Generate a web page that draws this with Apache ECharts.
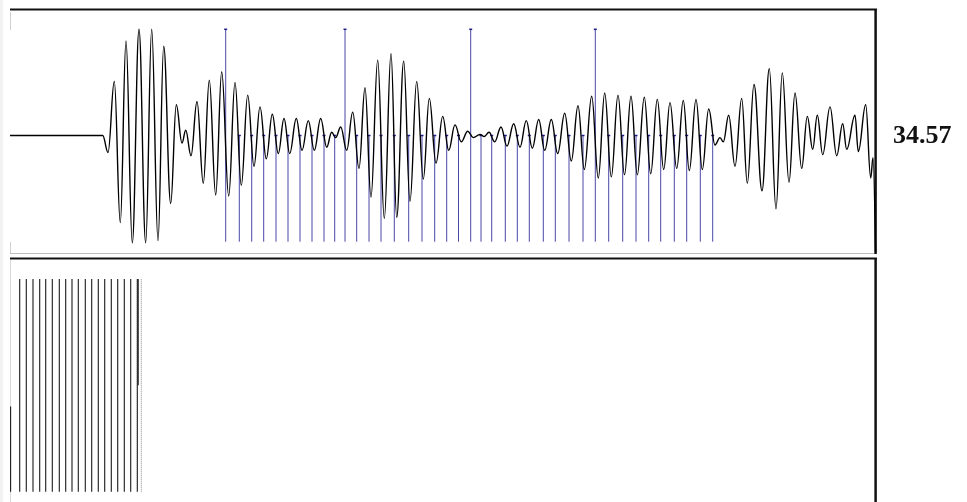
<!DOCTYPE html>
<html><head><meta charset="utf-8">
<script src="https://cdn.jsdelivr.net/npm/echarts@6/dist/echarts.min.js"></script>
<style>html,body{margin:0;padding:0;background:#fff;overflow:hidden}#c{width:967px;height:502px}</style>
</head><body><div id="c"></div>
<script>
// Waveform extrema (x = sample position, y = normalised amplitude)
const waveX = [0, 92.7, 98, 104.3, 110.3, 116, 122.3, 129, 135.7, 141.7, 148, 153.7, 160.7, 166.3, 172, 175.7, 181, 187, 193.3, 199.3, 205.7, 211.7, 218.7, 225, 231.3, 237.7, 244, 250, 256.3, 262.3, 268.3, 274, 279.7, 286.3, 292, 298.3, 304.3, 310.7, 316.7, 321.7, 325.7, 330.7, 336.7, 342.7, 349, 355, 361, 367.7, 374.3, 381, 386.7, 393.7, 400, 406.7, 413.3, 419.3, 426, 432.7, 438.7, 445, 451.3, 457.7, 463.3, 470, 474.3, 479, 484.7, 491, 497, 503.7, 510, 516.3, 522.3, 528.7, 534.7, 541.3, 547.7, 554.7, 561.3, 568, 574.3, 581.7, 588.3, 594.7, 601.3, 608, 614.5, 621, 627.3, 634.3, 640.7, 647.3, 653.7, 660, 666.7, 673.3, 679.3, 686, 692.3, 698.7, 705, 710, 713.3, 718.7, 725, 731.7, 737.3, 744, 752, 759.3, 766, 772.3, 779, 785, 791.7, 797.3, 802.7, 807.3, 812.7, 820, 826.7, 832.7, 836.7, 845, 848.3, 855.7, 860.7, 863, 865.5];
const waveY = [0, 0, -0.16, 0.51, -0.82, 0.89, -1.01, 1.0, -1.01, 1.0, -0.99, 0.84, -0.64, 0.29, -0.07, 0.05, -0.19, 0.32, -0.45, 0.52, -0.56, 0.60, -0.57, 0.50, -0.47, 0.38, -0.29, 0.27, -0.22, 0.20, -0.17, 0.16, -0.17, 0.16, -0.14, 0.14, -0.14, 0.16, -0.11, 0.03, -0.02, 0.08, -0.14, 0.22, -0.31, 0.45, -0.58, 0.71, -0.78, 0.77, -0.77, 0.70, -0.62, 0.51, -0.41, 0.35, -0.26, 0.18, -0.14, 0.10, -0.06, 0.04, -0.02, 0.01, -0.01, 0.03, -0.06, 0.08, -0.10, 0.11, -0.11, 0.14, -0.12, 0.15, -0.14, 0.15, -0.17, 0.21, -0.24, 0.28, -0.32, 0.37, -0.40, 0.40, -0.39, 0.38, -0.37, 0.37, -0.37, 0.36, -0.36, 0.34, -0.32, 0.31, -0.31, 0.33, -0.33, 0.34, -0.32, 0.25, -0.09, -0.02, -0.06, 0.19, -0.29, 0.35, -0.45, 0.48, -0.52, 0.63, -0.69, 0.59, -0.44, 0.40, -0.31, 0.18, -0.13, 0.19, -0.18, 0.27, -0.19, 0.11, -0.13, 0.19, -0.15, 0.29, -0.40, -0.21, -1.1];
// Pitch marks
const tallMarks = [215.7, 335, 460.7, 585.3];
const shortMarks = [229.3, 241.7, 253.7, 266, 278, 290, 302, 314, 324.7, 346.7, 359, 371, 384.3, 398.7, 412, 424.7, 436.7, 448.5, 471, 481.7, 495.3, 507.3, 519.3, 533.3, 545.3, 559, 573, 598.7, 612.7, 626, 638.7, 650.7, 664.3, 676.7, 690.3, 702.7];
// Lower panel segments
const lowX = [9.7, 16.3, 23, 29.7, 35.7, 42.3, 49.3, 55.7, 62, 68.3, 75.3, 81.7, 88.3, 94.7, 101.3, 107.7, 114.3, 120.7, 127.3, 0.6, 128.2];
const lowFrom = [0, 0, 0, 0, 0, 0, 0, 0, 0, 0, 0, 0, 0, 0, 0, 0, 0, 0, 0, 0, 0.5];
const lowTo = [1, 1, 1, 1, 1, 1, 1, 1, 1, 1, 1, 1, 1, 1, 1, 1, 1, 1, 1, 0.4, 1];
const dottedX = [131.3];
const valueLabel = '34.57';

const segItem = (color, width, dash, tip) => (params, api) => {
  const a = api.coord([api.value(0), api.value(1)]);
  const b = api.coord([api.value(0), api.value(2)]);
  const children = [{type: 'line', shape: {x1: a[0], y1: a[1], x2: b[0], y2: b[1]},
    style: {stroke: color, lineWidth: width, lineDash: dash || null}}];
  if (tip) children.push({type: 'line', shape: {x1: a[0] - 1.5, y1: a[1], x2: a[0] + 1.5, y2: a[1]},
    style: {stroke: tip, lineWidth: 1.5}});
  return {type: 'group', children};
};

const chart = echarts.init(document.getElementById('c'), null, {renderer: 'canvas'});
const serif = '"Liberation Serif","DejaVu Serif",serif';
chart.setOption({
  animation: false,
  backgroundColor: '#fff',
  grid: [
    {left: 10, top: 29.3, width: 866, height: 212.4},
    {left: 10, top: 279, width: 866, height: 212.7}
  ],
  xAxis: [
    {gridIndex: 0, type: 'value', min: 0, max: 866, show: false},
    {gridIndex: 1, type: 'value', min: 0, max: 866, show: false}
  ],
  yAxis: [
    {gridIndex: 0, type: 'value', min: -1, max: 1, show: false},
    {gridIndex: 1, type: 'value', min: 0, max: 1, show: false}
  ],
  graphic: [
    {type: 'rect', left: 0, top: 0, shape: {width: 3, height: 502}, style: {fill: '#f2f2f2'}, silent: true},
    {type: 'line', shape: {x1: 10.5, y1: 12, x2: 10.5, y2: 30}, style: {stroke: '#d0d0d0', lineWidth: 1}},
    {type: 'line', shape: {x1: 10.5, y1: 242, x2: 10.5, y2: 253}, style: {stroke: '#d0d0d0', lineWidth: 1}},
    {type: 'line', shape: {x1: 10, y1: 253.5, x2: 876, y2: 253.5}, style: {stroke: '#bdbdbd', lineWidth: 1}},
    {type: 'line', shape: {x1: 10, y1: 9.5, x2: 877, y2: 9.5}, style: {stroke: '#111', lineWidth: 2}},
    {type: 'line', shape: {x1: 875.6, y1: 9, x2: 875.6, y2: 254}, style: {stroke: '#111', lineWidth: 2.5}},
    {type: 'line', shape: {x1: 10.5, y1: 260, x2: 10.5, y2: 502}, style: {stroke: '#d8d8d8', lineWidth: 1}},
    {type: 'line', shape: {x1: 10, y1: 258.4, x2: 877, y2: 258.4}, style: {stroke: '#111', lineWidth: 2}},
    {type: 'line', shape: {x1: 875.6, y1: 258, x2: 875.6, y2: 502}, style: {stroke: '#111', lineWidth: 2.5}},
    {type: 'text', left: 893, top: 123, style: {text: valueLabel, font: 'bold 26px ' + serif, fill: '#111'}}
  ],
  series: [
    {type: 'custom', xAxisIndex: 0, yAxisIndex: 0, renderItem: segItem('#4848a8', 1, null, '#1c1c8c'),
      data: shortMarks.map(x => [x, 0, -1]), z: 1},
    {type: 'custom', xAxisIndex: 0, yAxisIndex: 0, renderItem: segItem('#4848a8', 1, null, '#1c1c8c'),
      data: tallMarks.map(x => [x, 1, -1]), z: 1},
    {type: 'line', xAxisIndex: 0, yAxisIndex: 0, data: waveX.map((x, i) => [x, waveY[i]]),
      smooth: 0.4, smoothMonotone: 'x', showSymbol: false, clip: false, z: 3,
      lineStyle: {color: '#000', width: 1.4}},
    {type: 'custom', xAxisIndex: 1, yAxisIndex: 1, renderItem: segItem('#1a1a1a', 1.1),
      data: lowX.map((x, i) => [x, lowFrom[i], lowTo[i]])},
    {type: 'custom', xAxisIndex: 1, yAxisIndex: 1, renderItem: segItem('#888', 1, [1, 1]),
      data: dottedX.map(x => [x, 0, 1])}
  ]
});
</script></body></html>
